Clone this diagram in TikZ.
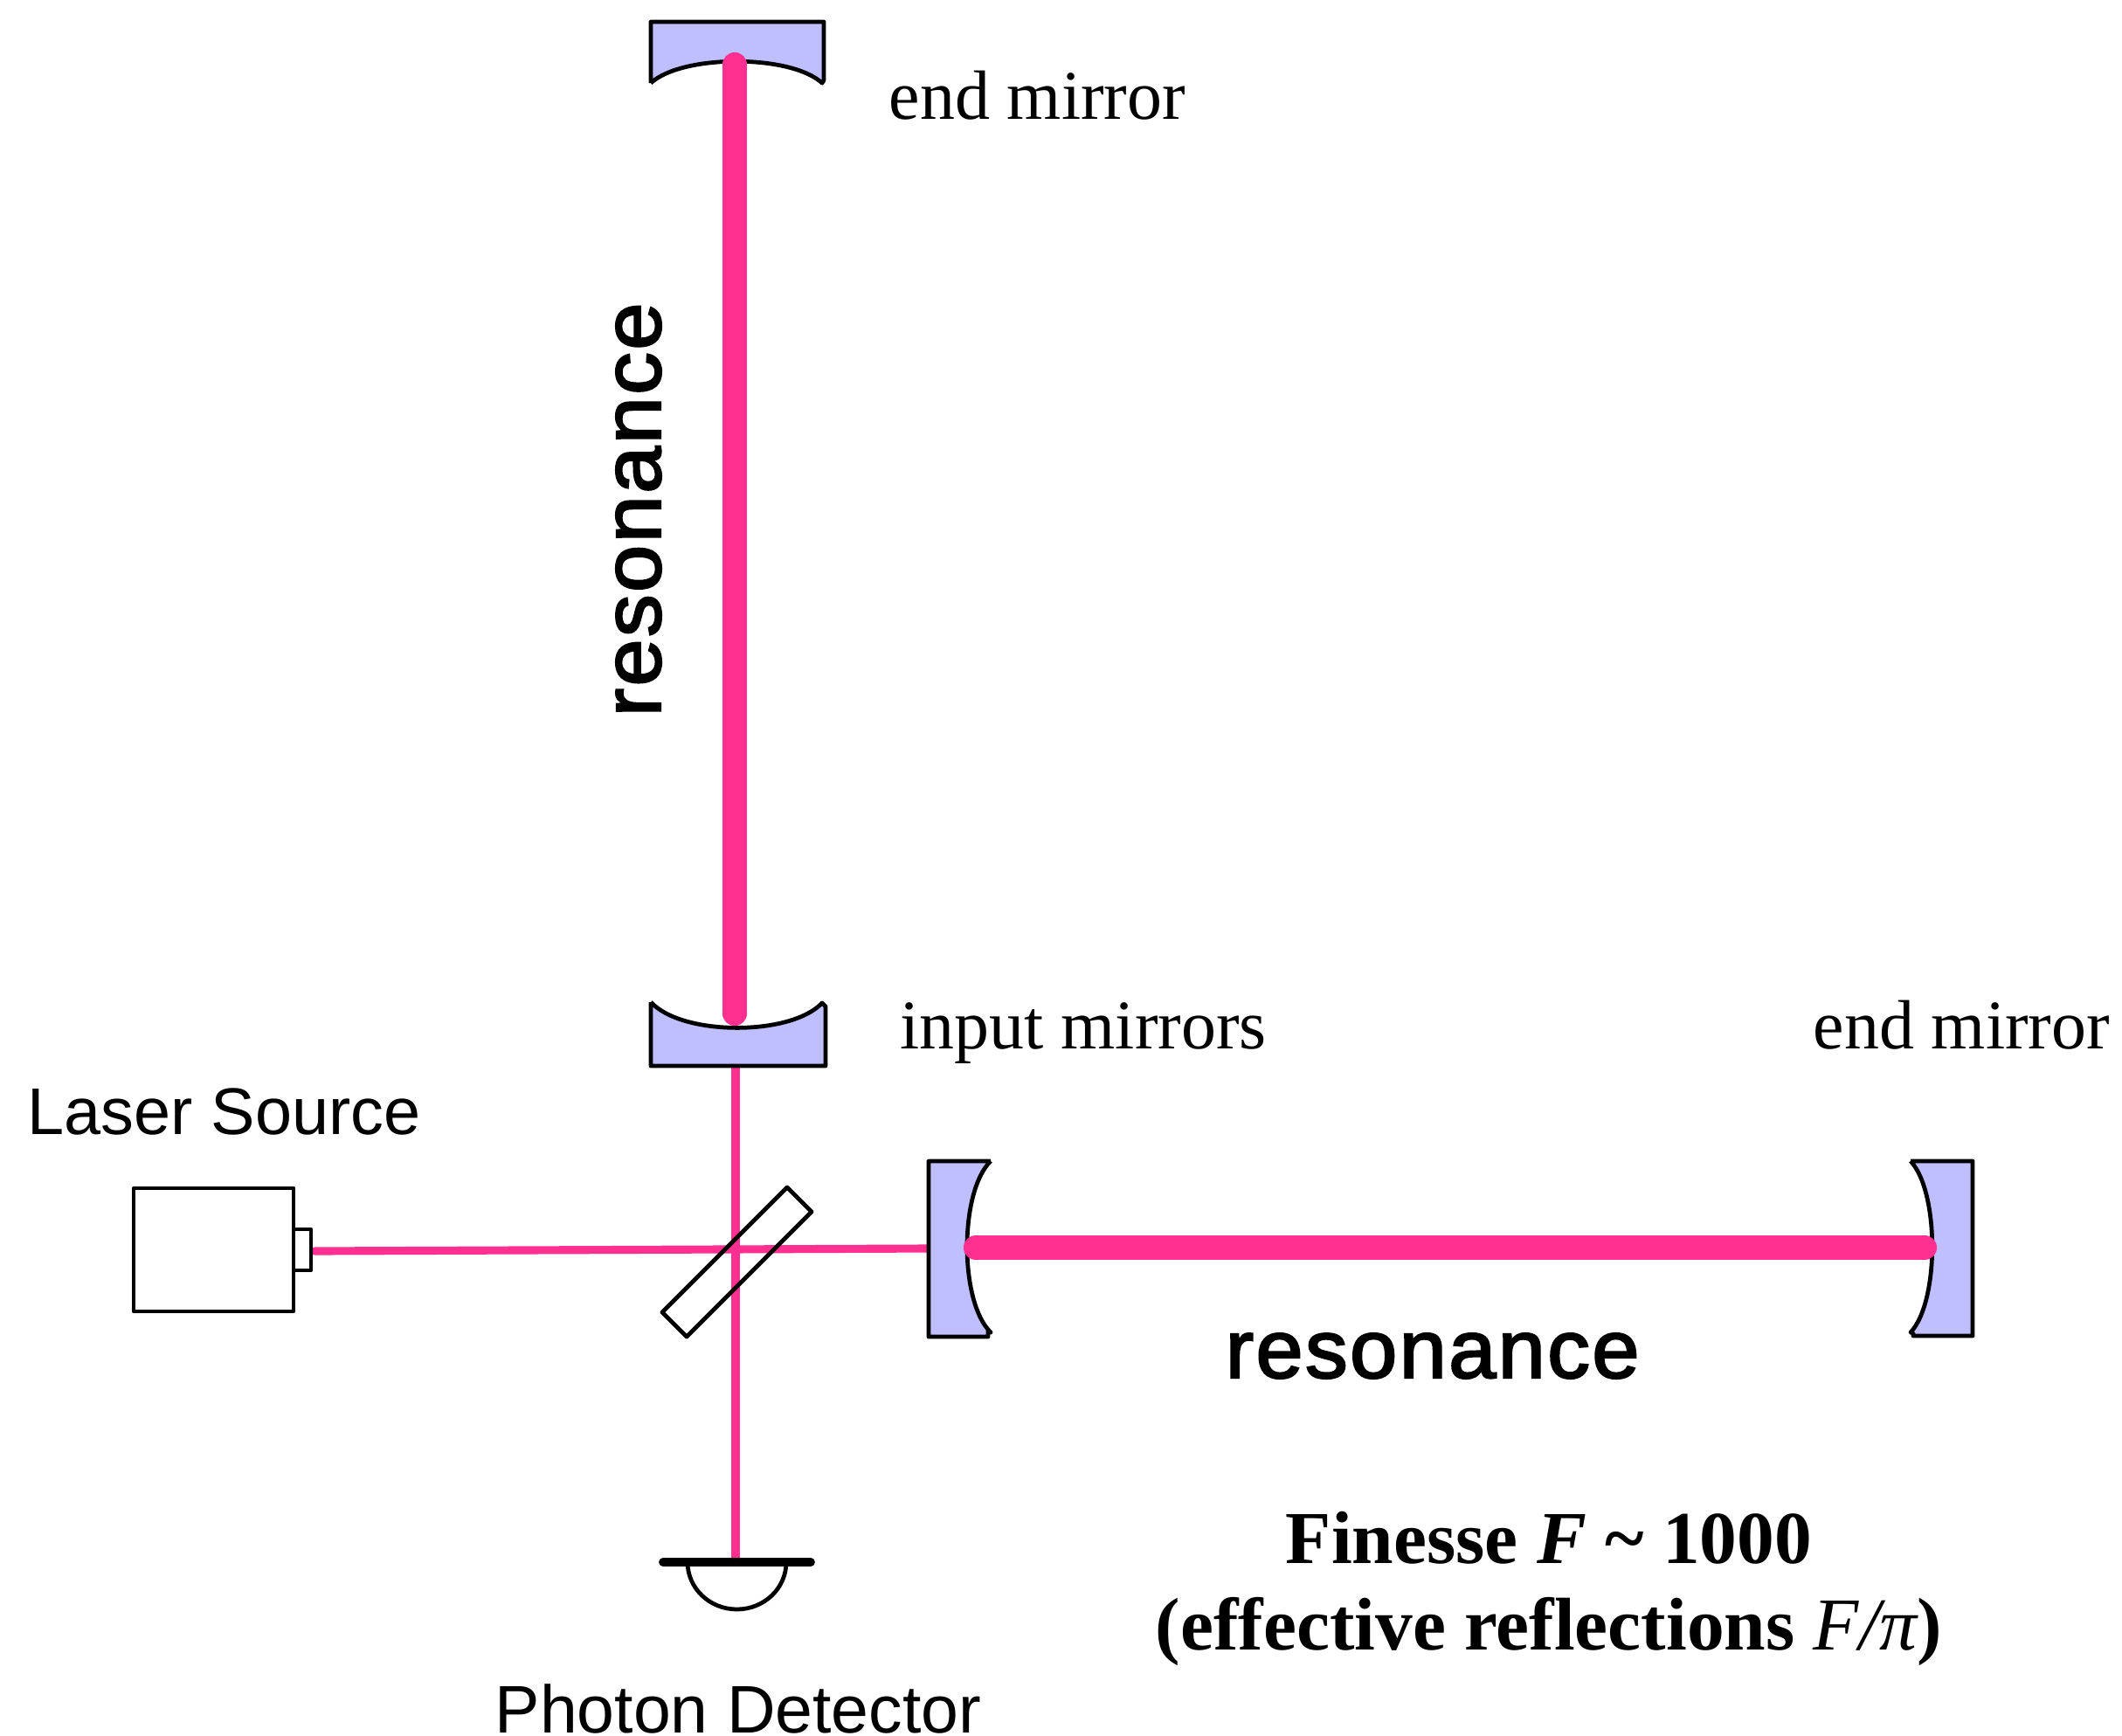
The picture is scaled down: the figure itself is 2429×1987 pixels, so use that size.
\documentclass[tikz,border=0pt]{standalone}
\usepackage{fontspec}
\setmainfont{Liberation Serif}
\setsansfont{Liberation Sans}
\newfontfamily\resofont[FakeBold=2.4,FakeStretch=1.03,LetterSpace=2.5]{Liberation Sans}
\usetikzlibrary{positioning}
\definecolor{beamcol}{HTML}{FF3090}
\definecolor{mirrorcol}{HTML}{BFBFFF}
\newcommand{\itvar}[1]{{\mdseries\itshape #1}}
\tikzset{
  thinbeam/.style={line width=2.6pt,beamcol},
  fatbeam/.style={line width=8pt,beamcol,line cap=round},
  mirror/.style={line width=1.35pt,fill=mirrorcol,line join=round},
  optic/.style={line width=1.35pt,line join=round},
  serifl/.style={anchor=base west,inner sep=0pt,font=\fontsize{22.7}{26}\selectfont},
  sansl/.style={anchor=base west,inner sep=0pt,font=\sffamily\fontsize{21.5}{26}\selectfont},
  reso/.style={anchor=base west,inner sep=0pt,font=\resofont\fontsize{26.9}{32}\selectfont},
  finesse/.style={anchor=base,inner sep=0pt,font=\bfseries\fontsize{24.3}{30}\selectfont},
}
\begin{document}
\begin{tikzpicture}[x=0.01cm,y=-0.01cm]
    \path[use as bounding box] (0,0) rectangle (2429,1987);
    % ------------- thin beams -------------
    \coordinate (laserout) at (360,1432);
    \coordinate (inputx) at (1063,1429);
    \coordinate (inputy) at (842,1220);
    \coordinate (pdtop) at (842,1788);
    \draw[thinbeam,line cap=round] (laserout) -- (inputx);
    \draw[thinbeam] (inputy) -- (pdtop);
    % ------------- mirrors -------------
    % top end mirror
    \draw[mirror] (745,95) -- (745,25) -- (943,25) -- (943,92) -- (941,95)
      .. controls (905,62) and (781,62) .. (745,95);
    % input mirror, y arm
    \draw[mirror] (745,1147) -- (745,1220) -- (945,1220) -- (945,1152) -- (941,1148)
      .. controls (905,1186) and (781,1186) .. (745,1147);
    % input mirror, x arm
    \draw[mirror] (1134,1329) -- (1063,1329) -- (1063,1530) -- (1131,1530) -- (1131,1523) -- (1134,1525)
      .. controls (1098,1490) and (1098,1364) .. (1134,1329);
    % end mirror, x arm
    \draw[mirror] (2187,1329) -- (2258,1329) -- (2258,1529) -- (2190,1529) -- (2190,1526) -- (2187,1525)
      .. controls (2220,1490) and (2220,1364) .. (2187,1329);
    % ------------- resonant beams -------------
    \coordinate (armytop) at (841,74);
    \coordinate (armybot) at (841,1160);
    \coordinate (armxleft) at (1117,1428);
    \coordinate (armxright) at (2203,1428);
    \draw[fatbeam] (armytop) -- (armybot);
    \draw[fatbeam] (armxleft) -- (armxright);
    % ------------- laser, splitter, detector -------------
    \draw[optic] (153,1360) rectangle (336,1501);
    \draw[optic] (336,1407) rectangle (356,1454);
    \draw[optic] (901,1359) -- (929,1387) -- (786,1530) -- (758,1502) -- cycle;
    \draw[optic] (787,1788) arc (180:360:56.5 and -54);
    \draw[line width=2.8pt,line cap=round] (759,1788) -- (pdtop) -- (928,1788);
    % ------------- labels -------------
    \node[serifl] (endy) at (1017,136) {end mirror};
    \node[serifl] (inmir) at (1030,1200) {input mirrors};
    \node[serifl] (endx) at (2075,1200) {end mirror};
    \node[sansl] (lasersrc) at (31,1298) {Laser Source};
    \node[sansl,font=\sffamily\fontsize{21.9}{26}\selectfont] (pdlabel) at (566,1983) {Photon Detector};
    \node[reso] (resox) at (1402,1577) {resonance};
    \node[reso,rotate=90] (resoy) at (756,821) {resonance};
    \node[finesse] (fin) at (1773,1789) {Finesse {\itshape F} \textasciitilde{} 1000};
    \node[finesse] (effrefl) at (1773,1888) {(effective reflections \itvar{F/π})};
\end{tikzpicture}
\end{document}
